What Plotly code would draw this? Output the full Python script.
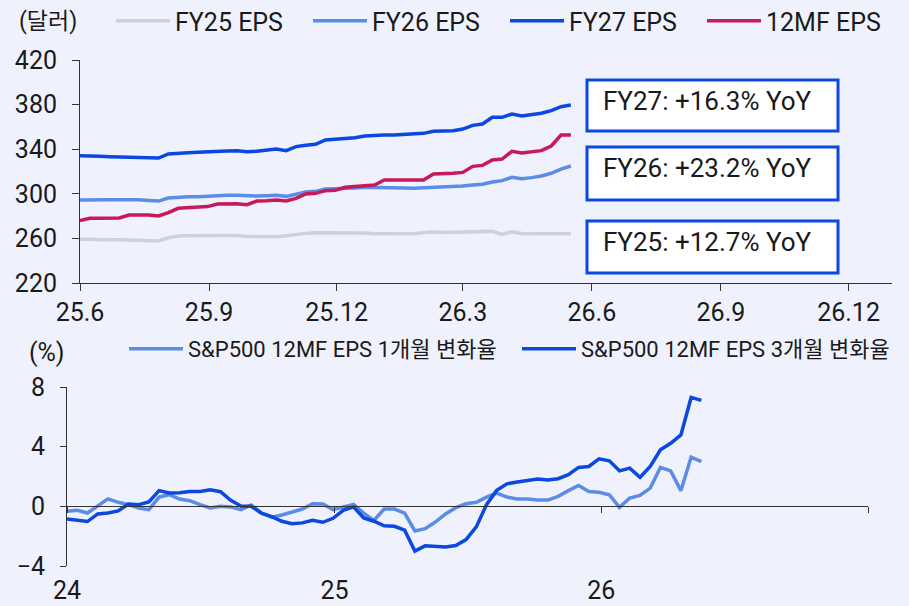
import plotly.graph_objects as go
import pandas as pd

# ---------------- data ----------------
top_dates = pd.date_range("2025-06-01", periods=51, freq="7D")
fy25_eps = [259.2, 258.9, 258.9, 258.9, 258.9, 258.6, 258.6, 258.3, 257.7, 260.6,
            262.1, 262.4, 262.7, 262.7, 262.7, 262.7, 262.7, 261.8, 261.8, 262.1,
            261.5, 262.4, 263.6, 264.5, 265.1, 265.1, 265.1, 265.0, 264.8, 264.8,
            264.2, 264.2, 264.2, 264.5, 264.5, 265.1, 265.7, 265.4, 265.7, 266.0,
            266.3, 266.3, 266.3, 263.6, 266.0, 264.5, 264.2, 264.2, 264.2, 264.2, 264.2]
fy26_eps = [294.4, 294.7, 295.0, 294.7, 294.7, 295.0, 294.7, 294.1, 293.5, 296.2,
            297.1, 297.4, 297.4, 298.0, 298.3, 298.6, 298.6, 298.0, 298.0, 298.3,
            298.6, 297.7, 299.8, 301.6, 302.2, 304.3, 304.6, 304.6, 305.2, 305.8,
            305.8, 305.8, 305.5, 305.2, 304.9, 305.2, 306.1, 306.4, 306.4, 307.0,
            307.9, 308.5, 310.6, 311.8, 314.8, 313.6, 314.5, 316.0, 318.4, 322.2, 324.9]
fy27_eps = [334.2, 333.6, 333.6, 333.3, 333.0, 333.0, 333.0, 332.4, 332.1, 335.7,
            336.6, 336.9, 337.2, 337.8, 338.1, 338.4, 338.7, 337.8, 338.1, 339.0,
            340.2, 338.7, 342.3, 343.5, 344.4, 348.3, 348.8, 349.4, 350.3, 351.8,
            352.4, 352.7, 352.7, 353.0, 353.3, 354.2, 356.0, 356.3, 356.6, 358.1,
            361.4, 362.6, 368.6, 368.6, 371.6, 369.8, 370.7, 372.2, 374.6, 378.1, 379.6]
mf12_eps = [275.9, 278.0, 278.0, 278.3, 278.3, 281.0, 281.0, 281.0, 280.1, 283.1,
            287.0, 287.3, 287.6, 288.5, 290.8, 291.1, 291.1, 290.2, 293.5, 293.8,
            294.4, 293.5, 295.9, 299.8, 300.4, 302.8, 303.1, 305.8, 306.4, 307.6,
            307.9, 312.4, 312.4, 312.1, 311.8, 312.4, 317.8, 318.0, 318.4, 319.2,
            324.6, 325.5, 330.3, 331.2, 338.1, 336.6, 337.5, 338.7, 342.9, 352.7, 352.7]

top_tick_dates = ["2025-06-01", "2025-09-01", "2025-12-01", "2026-03-01",
                  "2026-06-01", "2026-09-01", "2026-12-01"]
top_tick_labels = ["25.6", "25.9", "25.12", "26.3", "26.6", "26.9", "26.12"]

bot_dates = pd.date_range("2024-01-01", periods=63, freq="14D")
chg_1m = [-0.33, -0.27, -0.45, 0.0, 0.5, 0.27, 0.11, -0.11, -0.22, 0.62,
          0.78, 0.49, 0.38, 0.11, -0.11, 0.0, -0.04, -0.22, 0.09, -0.45,
          -0.73, -0.58, -0.38, -0.18, 0.18, 0.16, -0.22, -0.07, 0.13, -0.45,
          -0.95, -0.18, -0.18, -0.45, -1.65, -1.5, -1.05, -0.51, -0.09, 0.18,
          0.27, 0.62, 0.89, 0.62, 0.49, 0.49, 0.42, 0.42, 0.67, 1.05,
          1.40, 1.0, 0.94, 0.78, -0.07, 0.56, 0.73, 1.22, 2.61, 2.38,
          1.05, 3.3, 3.0]
chg_3m = [-0.85, -0.91, -1.02, -0.51, -0.45, -0.31, 0.16, 0.11, 0.29, 1.05,
          0.89, 0.91, 1.0, 1.0, 1.11, 0.98, 0.40, 0.02, 0.0, -0.45,
          -0.69, -1.0, -1.16, -1.11, -0.94, -1.07, -0.80, -0.27, -0.04, -0.78,
          -1.0, -1.31, -1.34, -1.6, -3.0, -2.65, -2.67, -2.72, -2.63, -2.23,
          -1.38, 0.11, 1.07, 1.51, 1.63, 1.74, 1.83, 1.76, 1.85, 2.12,
          2.61, 2.67, 3.18, 3.05, 2.38, 2.56, 1.94, 2.67, 3.79, 4.23,
          4.79, 7.3, 7.1]

bot_tick_dates = ["2024-01-01", "2025-01-01", "2026-01-01", "2027-01-01"]
bot_tick_labels = ["24", "25", "26", ""]

box_labels = ["FY27: +16.3% YoY", "FY26: +23.2% YoY", "FY25: +12.7% YoY"]

# ---------------- style ----------------
W, H = 909, 606
BG = "#eff2fd"
C_FY25 = "#cdd0e3"
C_FY26 = "#5b8de6"
C_FY27 = "#0a48e0"
C_12MF = "#c8195a"
FONT = "Roboto, 'Noto Sans CJK KR', sans-serif"
TXT = "#1a1a1a"
FS = 25

def px_x(p):
    return p / W

def px_y(p):
    return 1 - p / H

fig = go.Figure()

for name, vals, col in [("FY25 EPS", fy25_eps, C_FY25), ("FY26 EPS", fy26_eps, C_FY26),
                        ("FY27 EPS", fy27_eps, C_FY27), ("12MF EPS", mf12_eps, C_12MF)]:
    fig.add_trace(go.Scatter(x=top_dates, y=vals, mode="lines", name=name,
                             line=dict(color=col, width=3.5), xaxis="x", yaxis="y",
                             legend="legend"))

for name, vals, col in [("S&P500 12MF EPS 1개월 변화율", chg_1m, C_FY26),
                        ("S&P500 12MF EPS 3개월 변화율", chg_3m, C_FY27)]:
    fig.add_trace(go.Scatter(x=bot_dates, y=vals, mode="lines", name=name,
                             line=dict(color=col, width=3.5), xaxis="x2", yaxis="y2",
                             legend="legend2"))

# helper trace for the zero-line axis (ticks at y=0)
fig.add_trace(go.Scatter(x=[bot_dates[0]], y=[None], mode="lines", showlegend=False,
                         hoverinfo="skip", xaxis="x3", yaxis="y2"))

top_dom_x = [px_x(80), px_x(892)]
top_dom_y = [px_y(283), px_y(60)]
bot_dom_x = [px_x(67), px_x(868)]
bot_dom_y = [px_y(566), px_y(387)]
zero_pos = bot_dom_y[0] + (bot_dom_y[1] - bot_dom_y[0]) * (4 / 12)

axis_common = dict(showgrid=False, zeroline=False, linecolor="#333333", linewidth=1,
                   automargin=False,
                   tickcolor="#333333", tickfont=dict(size=FS, color=TXT, family=FONT))

shapes = []
box_rows = [(80, 131), (147, 200), (221, 273)]
for (t, b) in box_rows:
    shapes.append(dict(type="rect", xref="paper", yref="paper",
                       x0=px_x(587), x1=px_x(838), y0=px_y(b), y1=px_y(t),
                       line=dict(color=C_FY27, width=3), fillcolor="white", layer="above"))

annotations = []
for lab, (t, b) in zip(box_labels, box_rows):
    annotations.append(dict(text=lab, xref="paper", yref="paper", x=px_x(601),
                            y=px_y((t + b) / 2 - 5), xanchor="left", yanchor="middle",
                            showarrow=False, font=dict(size=26, color=TXT, family=FONT)))
annotations.append(dict(text="(달러)", xref="paper", yref="paper", x=px_x(17), y=px_y(21),
                        xanchor="left", yanchor="middle", showarrow=False,
                        font=dict(size=23, color=TXT, family=FONT)))
annotations.append(dict(text="(%)", xref="paper", yref="paper", x=px_x(27), y=px_y(352),
                        xanchor="left", yanchor="middle", showarrow=False,
                        font=dict(size=FS, color=TXT, family=FONT)))

fig.update_layout(
    width=W, height=H,
    margin=dict(l=0, r=0, t=0, b=0, autoexpand=False),
    paper_bgcolor=BG, plot_bgcolor=BG,
    font=dict(family=FONT, size=FS, color=TXT),
    xaxis=dict(domain=top_dom_x, anchor="y", type="date",
               range=["2025-06-01", "2027-01-01"],
               tickmode="array", tickvals=top_tick_dates, ticktext=top_tick_labels,
               showline=True, ticks="outside", ticklen=7, **axis_common),
    yaxis=dict(domain=top_dom_y, anchor="x", range=[220, 420], tick0=220, dtick=40,
               showline=True, ticks="outside", ticklen=7, ticklabelstandoff=10,
               **axis_common),
    xaxis2=dict(domain=bot_dom_x, anchor="y2", type="date",
                range=["2024-01-01", "2027-01-01"],
                tickmode="array", tickvals=bot_tick_dates, ticktext=bot_tick_labels,
                showline=False, ticks="", ticklabelstandoff=7, **axis_common),
    yaxis2=dict(domain=bot_dom_y, anchor="x2", range=[-4, 8], tick0=-4, dtick=4,
                showline=True, ticks="outside", ticklen=6, ticklabelstandoff=10,
                **axis_common),
    xaxis3=dict(domain=bot_dom_x, overlaying="x2", anchor="free", position=zero_pos,
                type="date", range=["2024-01-01", "2027-01-01"],
                tickmode="array", tickvals=bot_tick_dates, showticklabels=False,
                showline=True, ticks="outside", ticklen=6, **axis_common),
    legend=dict(orientation="h", x=px_x(111), y=px_y(21), xanchor="left", yanchor="middle",
                entrywidth=128, entrywidthmode="pixels", itemwidth=54,
                bgcolor="rgba(0,0,0,0)", font=dict(size=FS, color=TXT, family=FONT)),
    legend2=dict(orientation="h", x=px_x(124), y=px_y(349), xanchor="left", yanchor="middle",
                 entrywidth=324, entrywidthmode="pixels", itemwidth=54,
                 bgcolor="rgba(0,0,0,0)", font=dict(size=22, color=TXT, family=FONT)),
    shapes=shapes,
    annotations=annotations,
    showlegend=True,
)

fig.write_html("out.html",
               config={"displayModeBar": False},
               post_script="document.body.style.margin='0px';"
                           "document.body.style.background='" + BG + "';")
